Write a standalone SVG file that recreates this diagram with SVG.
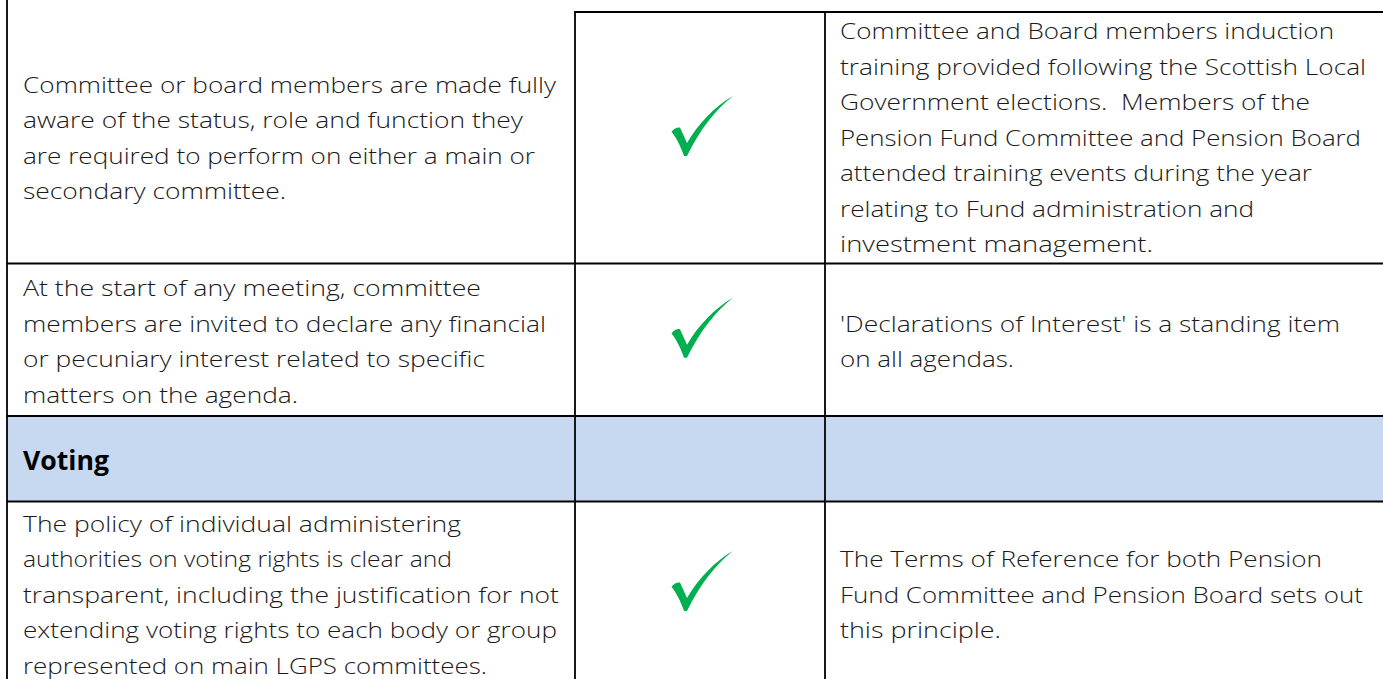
<svg xmlns="http://www.w3.org/2000/svg" xmlns:xlink="http://www.w3.org/1999/xlink" width="1383" height="679" viewBox="0 0 1383 679">
<style>
.t{font-family:"Open Sans","Liberation Sans",sans-serif;font-size:22.5px;font-weight:300;fill:#1a1a1a;}
.h{font-family:"Open Sans","Liberation Sans",sans-serif;font-size:26px;font-weight:bold;fill:#000;}
.ln{stroke:#000;stroke-width:1.8;fill:none;}
.tick{fill:#00B050;}
</style>
<defs>
<path id="chk" class="tick" d="M0.5,36 C2,33 6,31 9,31.5 L16,47 C27,28 44,10 62,0 C46,12 29,33 16,60 L13,60 C10,51 5,41 0.5,36 Z"/>
</defs>
<rect x="7" y="416" width="1376" height="85.5" fill="#C6D9F1"/>
<g id="grid">
<line class="ln" x1="7" y1="0" x2="7" y2="679"/>
<line class="ln" x1="575" y1="12" x2="575" y2="679"/>
<line class="ln" x1="825" y1="12" x2="825" y2="679"/>
<line class="ln" x1="574.1" y1="12" x2="1383" y2="12"/>
<line class="ln" x1="7" y1="263.5" x2="1383" y2="263.5"/>
<line class="ln" x1="7" y1="416" x2="1383" y2="416"/>
<line class="ln" x1="7" y1="501.5" x2="1383" y2="501.5"/>
</g>
<g id="r1c1">
<text class="t" x="23" y="92.5" textLength="533" lengthAdjust="spacingAndGlyphs">Committee or board members are made fully</text>
<text class="t" x="23" y="128" textLength="500" lengthAdjust="spacingAndGlyphs">aware of the status, role and function they</text>
<text class="t" x="23" y="163.5" textLength="512" lengthAdjust="spacingAndGlyphs">are required to perform on either a main or</text>
<text class="t" x="23" y="199" textLength="263" lengthAdjust="spacingAndGlyphs">secondary committee.</text>
</g>
<g id="r1c2"><use xlink:href="#chk" x="671" y="96"/></g>
<g id="r1c3">
<text class="t" x="840" y="39.3" textLength="494" lengthAdjust="spacingAndGlyphs">Committee and Board members induction</text>
<text class="t" x="840" y="74.8" textLength="526" lengthAdjust="spacingAndGlyphs">training provided following the Scottish Local</text>
<text class="t" x="840" y="110.3" textLength="470" lengthAdjust="spacingAndGlyphs" xml:space="preserve">Government elections.  Members of the</text>
<text class="t" x="840" y="145.8" textLength="521" lengthAdjust="spacingAndGlyphs">Pension Fund Committee and Pension Board</text>
<text class="t" x="840" y="181.3" textLength="472" lengthAdjust="spacingAndGlyphs">attended training events during the year</text>
<text class="t" x="840" y="216.8" textLength="414" lengthAdjust="spacingAndGlyphs">relating to Fund administration and</text>
<text class="t" x="840" y="252.3" textLength="313" lengthAdjust="spacingAndGlyphs">investment management.</text>
</g>
<g id="r2c1">
<text class="t" x="23" y="296" textLength="458" lengthAdjust="spacingAndGlyphs">At the start of any meeting, committee</text>
<text class="t" x="23" y="331.5" textLength="523" lengthAdjust="spacingAndGlyphs">members are invited to declare any financial</text>
<text class="t" x="23" y="367" textLength="462" lengthAdjust="spacingAndGlyphs">or pecuniary interest related to specific</text>
<text class="t" x="23" y="402.5" textLength="275" lengthAdjust="spacingAndGlyphs">matters on the agenda.</text>
</g>
<g id="r2c2"><use xlink:href="#chk" x="671" y="297.7"/></g>
<g id="r2c3">
<text class="t" x="840" y="331.5" textLength="500" lengthAdjust="spacingAndGlyphs">'Declarations of Interest' is a standing item</text>
<text class="t" x="840" y="367" textLength="174" lengthAdjust="spacingAndGlyphs">on all agendas.</text>
</g>
<g id="r3c1"><text class="h" x="23" y="470" textLength="86" lengthAdjust="spacingAndGlyphs">Voting</text></g>
<g id="r4c1">
<text class="t" x="23" y="531.7" textLength="438" lengthAdjust="spacingAndGlyphs">The policy of individual administering</text>
<text class="t" x="23" y="567.2" textLength="429" lengthAdjust="spacingAndGlyphs">authorities on voting rights is clear and</text>
<text class="t" x="23" y="602.7" textLength="536" lengthAdjust="spacingAndGlyphs">transparent, including the justification for not</text>
<text class="t" x="23" y="638.2" textLength="534" lengthAdjust="spacingAndGlyphs">extending voting rights to each body or group</text>
<text class="t" x="23" y="673.7" textLength="464" lengthAdjust="spacingAndGlyphs">represented on main LGPS committees.</text>
</g>
<g id="r4c2"><use xlink:href="#chk" x="671" y="551"/></g>
<g id="r4c3">
<text class="t" x="840" y="567" textLength="482" lengthAdjust="spacingAndGlyphs">The Terms of Reference for both Pension</text>
<text class="t" x="840" y="602.5" textLength="523" lengthAdjust="spacingAndGlyphs">Fund Committee and Pension Board sets out</text>
<text class="t" x="840" y="638" textLength="161" lengthAdjust="spacingAndGlyphs">this principle.</text>
</g>
</svg>
